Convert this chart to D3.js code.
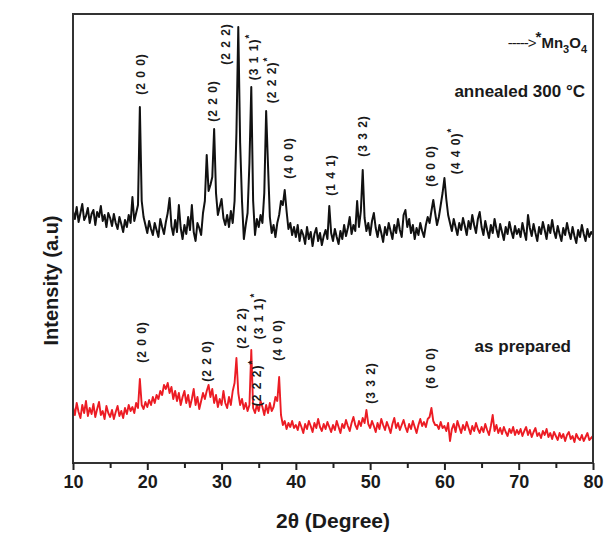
<!DOCTYPE html>
<html>
<head>
<meta charset="utf-8">
<script src="https://cdnjs.cloudflare.com/ajax/libs/d3/7.8.5/d3.min.js"></script>
<style>
  body { margin: 0; background: #fff; }
  text { font-family: "Liberation Sans", Arial, sans-serif; font-weight: bold; fill: #1a1a1a; }
</style>
</head>
<body>
<div id="chart"></div>
<script>
// 2theta sampling: starts at 10 deg, one reading every 0.25 deg up to 80 deg
var thetaStart = 10;
var thetaStep = 0.25;

// annealed 300 C pattern (offset upward), 5 deg per row
var annealed = [
  252, 244, 256, 241, 250, 259, 243, 247, 255, 240, 249, 253, 238, 251, 246, 257, 242, 248, 236, 250,
  245, 237, 249, 240, 234, 246, 239, 231, 243, 236, 248, 240, 266, 242, 250, 258, 356, 262, 246, 238,
  230, 242, 234, 228, 240, 233, 226, 244, 236, 229, 241, 250, 265, 237, 228, 243, 231, 258, 235, 224,
  238, 229, 246, 233, 258, 231, 222, 240, 235, 228, 250, 262, 308, 272, 278, 286, 334, 270, 248, 256,
  264, 245, 238, 248, 236, 252, 240, 262, 330, 436, 320, 262, 224, 238, 250, 300, 376, 262, 228, 244,
  236, 248, 240, 270, 352, 298, 246, 230, 238, 226, 240, 248, 262, 258, 273, 252, 234, 240, 228, 236,
  226, 238, 222, 233, 228, 219, 236, 224, 231, 217, 229, 235, 222, 230, 218, 227, 233, 224, 257, 230,
  222, 234, 226, 219, 232, 224, 238, 227, 235, 246, 229, 238, 232, 262, 236, 252, 293, 245, 232, 240,
  228, 242, 250, 235, 226, 238, 230, 221, 236, 228, 240, 232, 224, 238, 230, 244, 233, 226, 248, 253,
  236, 244, 230, 238, 224, 235, 228, 240, 232, 226, 238, 246, 240, 252, 263, 250, 238, 246, 258, 270,
  285, 264, 248, 240, 232, 244, 236, 228, 240, 233, 245, 237, 228, 242, 234, 248, 238, 230, 244, 251,
  236, 228, 242, 233, 225, 238, 230, 244, 234, 226, 239, 231, 223, 236, 229, 241, 232, 225, 237, 229,
  234, 226, 240, 231, 223, 248, 235, 227, 239, 230, 222, 236, 229, 241, 233, 224, 238, 230, 243, 232,
  225, 237, 229, 222, 235, 228, 240, 231, 224, 236, 227, 220, 233, 226, 238, 229, 222, 234, 226, 231,
  228
];

// as prepared pattern
var prepared = [
  56, 48, 60, 51, 45, 58, 50, 62, 47, 55, 49, 59, 46, 54, 61, 48, 52, 44, 57, 50,
  46, 53, 44, 51, 57, 47, 52, 45, 55, 49, 58, 52, 56, 50, 60, 55, 84, 58, 54, 61,
  56, 63, 58, 66, 60, 68, 64, 72, 68, 78, 74, 80, 70, 76, 64, 72, 62, 70, 58, 66,
  72, 60, 68, 56, 64, 74, 58, 66, 54, 62, 70, 64, 72, 78, 66, 74, 60, 68, 56, 64,
  58, 72, 60, 55, 66, 58, 72, 80, 105, 70, 58, 64, 54, 60, 52, 58, 113, 55, 50, 58,
  52, 62, 56, 48, 58, 50, 60, 52, 56, 66, 62, 86, 48, 38, 42, 34, 40, 36, 42, 35,
  38, 33, 41, 36, 30, 39, 34, 42, 37, 31, 40, 35, 44, 36, 32, 39, 34, 41, 36, 31,
  38, 33, 42, 36, 30, 39, 35, 43, 37, 32, 40, 46, 38, 34, 42, 37, 45, 40, 53, 39,
  35, 42, 37, 31, 40, 34, 44, 38, 33, 41, 36, 30, 39, 45, 35, 40, 33, 38, 43, 36,
  31, 39, 34, 42, 36, 30, 38, 44, 37, 41, 36, 44, 46, 55, 42, 38, 38, 34, 41, 35,
  37, 32, 40, 22, 34, 39, 31, 42, 36, 30, 38, 33, 41, 35, 29, 37, 32, 40, 34, 30,
  36, 31, 39, 33, 28, 37, 48, 32, 38, 30, 35, 29, 36, 31, 27, 34, 30, 36, 28, 33,
  29, 34, 27, 32, 36, 28, 33, 26, 31, 35, 27, 30, 25, 32, 28, 34, 26, 30, 24, 31,
  27, 23, 30, 25, 29, 22, 28, 31, 24, 27, 21, 29, 25, 23, 28, 22, 26, 30, 23, 25,
  27
];

// peak labels (hkl text, 2theta of label, intensity at label centre)
var annealedHkl = ["(2 0 0)", "(2 2 0)", "(2 2 2)", "(3 1 1)*", "(2 2 2)*", "(4 0 0)", "(1 4 1)", "(3 3 2)", "(6 0 0)", "(4 4 0)*"];
var annealedHklTheta = [19.2, 28.9, 30.6, 34.3, 36.8, 39.1, 44.7, 49.0, 58.2, 61.5];
var annealedHklLevel = [389, 362, 419, 406, 383, 305, 288, 327, 297, 312];

var preparedHkl = ["(2 0 0)", "(2 2 0)", "(2 2 2)", "(3 1 1)*", "(2 2 2)*", "(4 0 0)", "(3 3 2)", "(6 0 0)"];
var preparedHklTheta = [19.3, 28.1, 32.7, 35.0, 34.8, 37.6, 50.1, 58.2];
var preparedHklLevel = [121, 102, 135, 147, 80, 123, 80, 95];

var xTicks = [10, 20, 30, 40, 50, 60, 70, 80];

// Set size of chart
var svgWidth = 604;
var svgHeight = 541;
var margin = { top: 14, right: 11, bottom: 78, left: 73 };
var width = svgWidth - margin.left - margin.right;
var height = svgHeight - margin.top - margin.bottom;

var svg = d3.select("#chart")
  .append("svg")
  .attr("width", svgWidth)
  .attr("height", svgHeight);

var chartGroup = svg.append("g")
  .attr("transform", `translate(${margin.left}, ${margin.top})`);

var xScale = d3.scaleLinear().domain([10, 80]).range([0, width]);
var yScale = d3.scaleLinear().domain([0, 449]).range([height, 0]);

var line = d3.line()
  .x((d, i) => xScale(thetaStart + i * thetaStep))
  .y(d => yScale(d));

// curves
chartGroup.append("path")
  .datum(prepared)
  .attr("fill", "none")
  .attr("stroke", "#ec1c24")
  .attr("stroke-width", 1.9)
  .attr("stroke-linejoin", "round")
  .attr("d", line);

chartGroup.append("path")
  .datum(annealed)
  .attr("fill", "none")
  .attr("stroke", "#111")
  .attr("stroke-width", 2)
  .attr("stroke-linejoin", "round")
  .attr("d", line);

// frame
chartGroup.append("rect")
  .attr("width", width)
  .attr("height", height)
  .attr("fill", "none")
  .attr("stroke", "#333")
  .attr("stroke-width", 2);

// bottom axis, major + minor ticks outside
var bottomAxis = d3.axisBottom(xScale)
  .tickValues(xTicks)
  .tickSize(7)
  .tickPadding(5);
var xAxis = chartGroup.append("g")
  .attr("transform", `translate(0, ${height})`)
  .call(bottomAxis);
xAxis.select(".domain").remove();
xAxis.selectAll(".tick line").attr("stroke", "#222").attr("stroke-width", 2);
xAxis.selectAll(".tick text")
  .attr("font-size", 18)
  .attr("font-family", "Liberation Sans, Arial, sans-serif")
  .attr("font-weight", "bold")
  .attr("fill", "#1a1a1a");

var minorAxis = d3.axisBottom(xScale)
  .tickValues(xTicks.slice(0, -1).map(d => d + 5))
  .tickSize(5)
  .tickFormat("");
var xMinor = chartGroup.append("g")
  .attr("transform", `translate(0, ${height})`)
  .call(minorAxis);
xMinor.select(".domain").remove();
xMinor.selectAll(".tick line").attr("stroke", "#222").attr("stroke-width", 2);

// peak labels
function hklLabels(names, thetas, levels) {
  names.forEach(function (name, i) {
    var cx = xScale(thetas[i]);
    var cy = yScale(levels[i]);
    var star = name.endsWith("*");
    var t = chartGroup.append("text")
      .attr("transform", `translate(${cx + 4}, ${cy}) rotate(-90)`)
      .attr("text-anchor", "middle")
      .attr("font-size", 12)
      .attr("letter-spacing", 1);
    t.append("tspan").text(star ? name.slice(0, -1) : name);
    if (star) {
      t.append("tspan").attr("dy", -5).attr("font-size", 10).text("*");
    }
  });
}
hklLabels(annealedHkl, annealedHklTheta, annealedHklLevel);
hklLabels(preparedHkl, preparedHklTheta, preparedHklLevel);

// legend-ish notes
var mn = chartGroup.append("text")
  .attr("x", width - 6)
  .attr("y", 34)
  .attr("text-anchor", "end")
  .attr("font-size", 15);
mn.append("tspan").attr("font-weight", "normal").attr("letter-spacing", -1).text("----->");
mn.append("tspan").attr("dy", -6).text("*");
mn.append("tspan").attr("dy", 6).text("Mn");
mn.append("tspan").attr("dy", 5).attr("font-size", 11).text("3");
mn.append("tspan").attr("dy", -5).text("O");
mn.append("tspan").attr("dy", 5).attr("font-size", 11).text("4");

chartGroup.append("text")
  .attr("x", width - 8)
  .attr("y", 83)
  .attr("text-anchor", "end")
  .attr("font-size", 17)
  .text("annealed 300 °C");

chartGroup.append("text")
  .attr("x", width - 22)
  .attr("y", 338)
  .attr("text-anchor", "end")
  .attr("font-size", 17)
  .text("as prepared");

// axis titles
chartGroup.append("text")
  .attr("x", width / 2)
  .attr("y", height + 65)
  .attr("text-anchor", "middle")
  .attr("font-size", 21)
  .text("2θ (Degree)");

chartGroup.append("text")
  .attr("transform", "rotate(-90)")
  .attr("x", -(height / 2) - 42)
  .attr("y", -15)
  .attr("text-anchor", "middle")
  .attr("font-size", 20)
  .text("Intensity (a.u)");
</script>
</body>
</html>
